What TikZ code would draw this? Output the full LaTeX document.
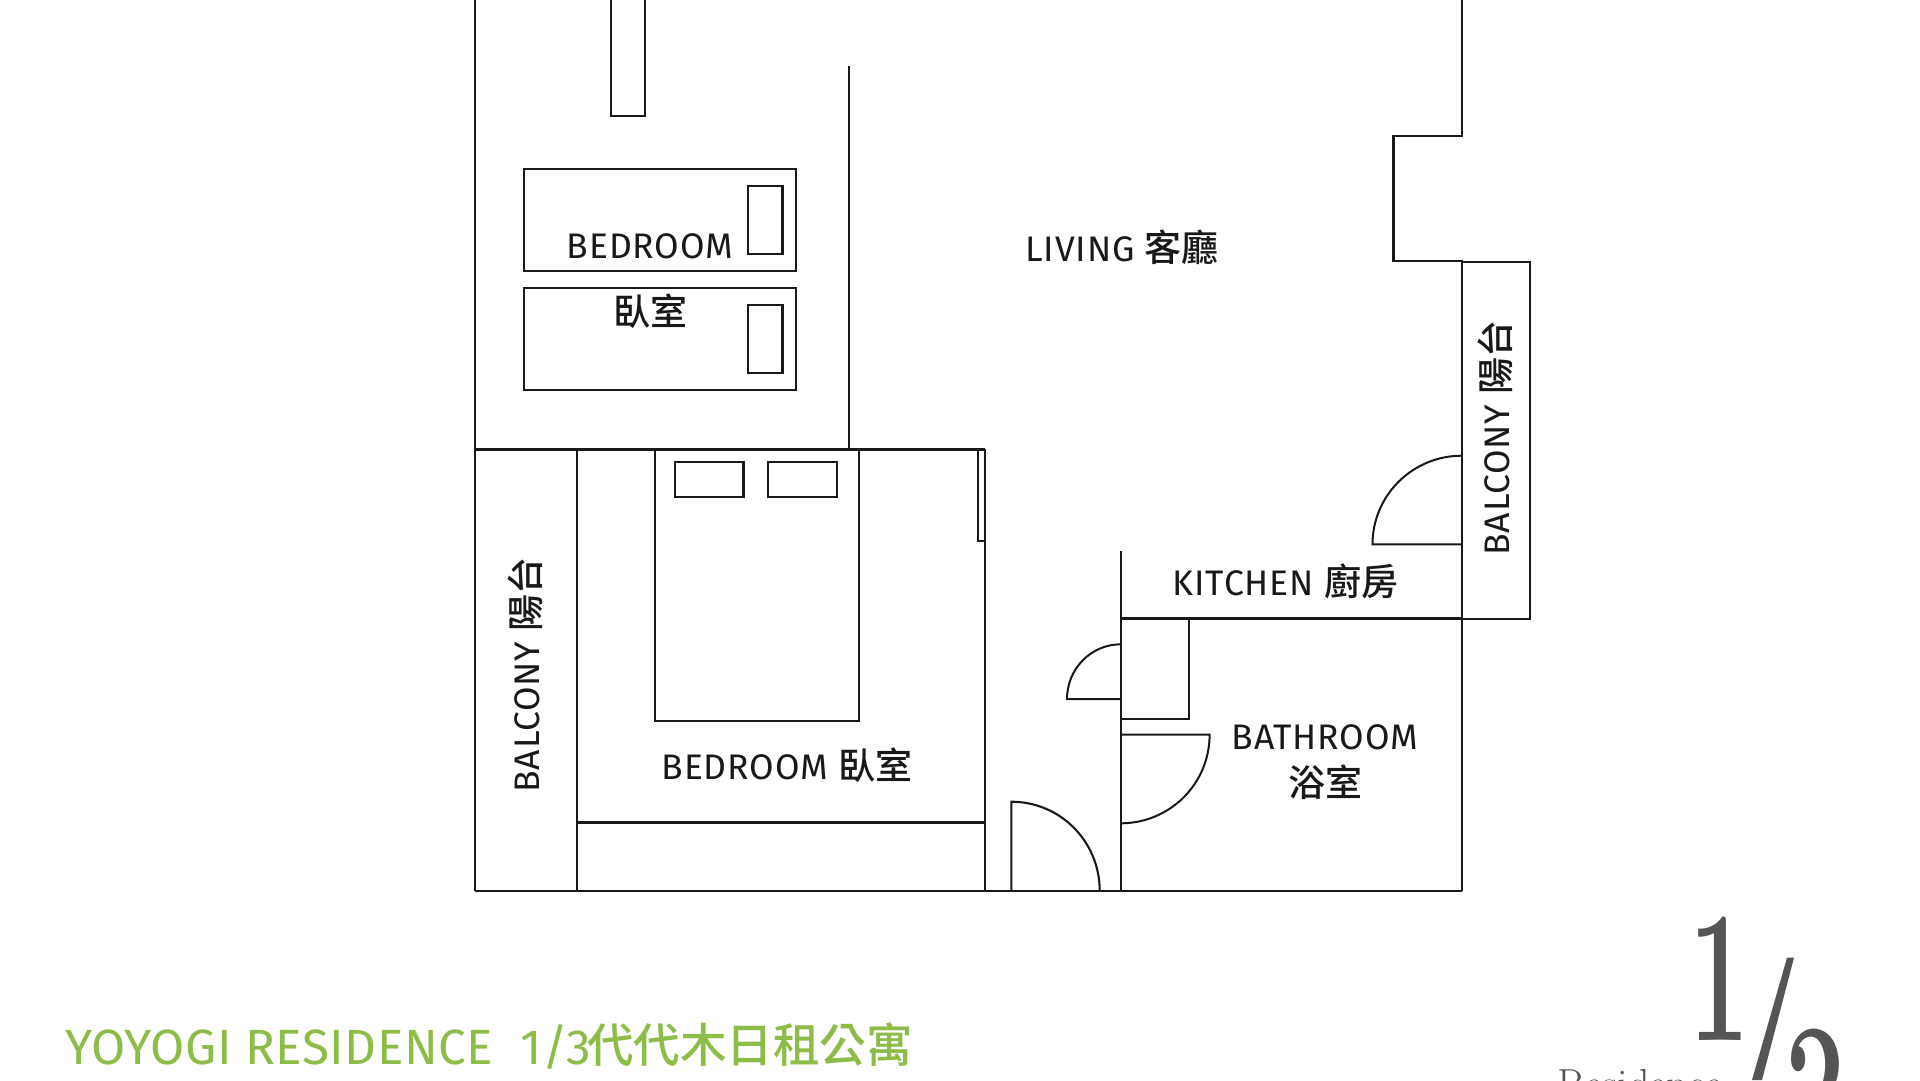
\documentclass[tikz,border=0pt]{standalone}
\usepackage{fontspec}
\setmainfont{Fira Sans}[LetterSpace=2.5]
\newfontfamily\titlef{Fira Sans}[LetterSpace=1]
\newfontfamily\cjkf{Noto Sans CJK TC Medium}
\newfontfamily\serifd{Latin Modern Roman}
\definecolor{titlegreen}{RGB}{142,188,72}
\definecolor{bigdark}{RGB}{85,85,85}
\tikzset{
  wall/.style={draw=black!90,line width=2.1pt,line join=miter},
  thick wall/.style={draw=black!90,line width=3.2pt},
  thin wall/.style={draw=black!90,line width=2pt},
  label/.style={inner sep=0pt,anchor=center,text=black!90,font=\fontsize{35.5}{35.5}\selectfont},
  big digit/.style={inner sep=0pt,anchor=base,text=bigdark,xscale=.55,yscale=.97,font=\serifd\bfseries\fontsize{194}{194}\selectfont},
  title part/.style={inner sep=0pt,text=titlegreen,anchor=base west},
}
\newcommand{\zh}[1]{{\cjkf\fontsize{37}{37}\selectfont #1}}
\begin{document}
\begin{tikzpicture}[x=1pt,y=-1pt]
\useasboundingbox (0,0) rectangle (1920,1080);
\clip (0,0) rectangle (1920,1080);
\fill[white] (0,0) rectangle (1920,1080);
% outer left wall, wardrobe, partitions
\draw[wall] (474.7,0) -- (474.7,890.7);
\draw[wall] (611,0) -- (611,116) -- (645.4,116) -- (645.4,0);
\draw[wall] (523.6,169) rectangle (796,271);
\draw[wall] (523.6,287.7) rectangle (796,389.7);
\draw[wall] (747.9,185.7) rectangle (782.5,254);
\draw[wall] (747.9,304.7) rectangle (782.5,373);
\draw[thin wall] (849.3,66) -- (849.3,449);
% master bedroom
\draw[thick wall] (474.7,449.3) -- (985,449.3);
\draw[wall] (577,449.3) -- (577,890.7);
\draw[wall] (654.6,449.3) -- (654.6,721) -- (858.7,721) -- (858.7,449.3);
\draw[wall] (674.7,462.3) rectangle (743.5,497);
\draw[wall] (768,462.3) rectangle (836.8,497);
\draw[wall] (985,449.3) -- (985,890.7);
\draw[wall] (978.3,449.3) -- (978.3,540.7) -- (985,540.7);
\draw[thick wall] (577,822.7) -- (985,822.7);
\draw[wall] (474.7,890.7) -- (1461.8,890.7);
% entrance door
\draw[wall] (1011.3,890.7) -- (1011.3,801.7) .. controls (1060.4,801.7) and (1099.7,841.6) .. (1099.7,890.7);
% kitchen / bathroom
\draw[wall] (1120.7,551.3) -- (1120.7,890.7);
\draw[thick wall] (1120.7,618.7) -- (1461.8,618.7);
\draw[wall] (1461.8,618.7) -- (1529.6,618.7) -- (1529.6,262) -- (1461.8,262);
\draw[wall] (1189,618.7) -- (1189,719.3) -- (1120.7,719.3);
\draw[thin wall] (1120.7,644.3) .. controls (1091,644.3) and (1067,668.8) .. (1067,699) -- (1120.7,699);
\draw[thin wall] (1120.7,734.7) -- (1209.6,734.7) .. controls (1209.6,783.8) and (1169.8,823.3) .. (1120.7,823.3);
\draw[thin wall] (1461.8,455.7) .. controls (1412.5,455.7) and (1372.5,495.4) .. (1372.5,544.3) -- (1461.8,544.3);
% right wall
\draw[wall] (1461.8,0) -- (1461.8,135.7) -- (1393.5,135.7) -- (1393.5,261) -- (1461.8,261) -- (1461.8,890.7);
% labels
\node[label] (bedA) at (650,246.5) {BEDROOM};
\node[label] (bedAzh) at (650,311) {\zh{臥室}};
\node[label] (living) at (1122,247) {LIVING \zh{客廳}};
\node[label] (master) at (787,765) {BEDROOM \zh{臥室}};
\node[label] (kitchen) at (1285.5,581) {KITCHEN \zh{廚房}};
\node[label] (bath) at (1325,737) {BATHROOM};
\node[label] (bathzh) at (1325,782) {\zh{浴室}};
\node[label,rotate=90] (balL) at (525,675) {BALCONY \zh{陽台}};
\node[label,rotate=90] (balR) at (1495,438) {BALCONY \zh{陽台}};
% title
\node[title part,font=\titlef\fontsize{49.5}{49.5}\selectfont] (title) at (65,1064) {YOYOGI RESIDENCE};
\node[title part,font=\titlef\fontsize{49.5}{49.5}\selectfont] (titlenum) at (520,1064) {1/3};
\node[title part,font=\cjkf\fontsize{46.5}{46.5}\selectfont] (titlezh) at (587,1062) {代代木日租公寓};
% big fraction
\node[big digit] (one) at (1720,1040.7) {1};
\node[big digit] (two) at (1816,1152) {2};
\fill[bigdark] (1787,957.7) -- (1794,957.7) -- (1762,1080) -- (1752,1080) -- cycle;
\node[inner sep=0pt,anchor=base west,text=bigdark,font=\serifd\fontsize{42}{42}\selectfont] (res) at (1557,1098.7) {Residence};
\end{tikzpicture}
\end{document}
